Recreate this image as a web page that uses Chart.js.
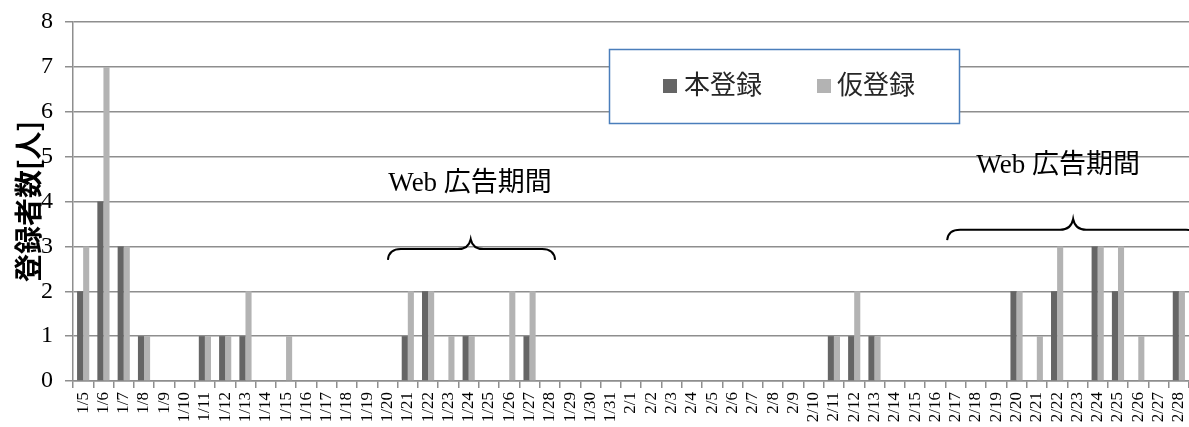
<!DOCTYPE html>
<html>
<head>
<meta charset="utf-8">
<script src="https://cdn.jsdelivr.net/npm/chart.js@4.4.1/dist/chart.umd.min.js"></script>
<style>
  html, body { margin: 0; padding: 0; background: #ffffff; }
  #wrap { width: 1189px; height: 427px; }
</style>
</head>
<body>
<div id="wrap"><canvas id="c" width="1189" height="427"></canvas></div>
<script>
// Daily registrations, 1/5 - 2/28
const dates = [
  '1/5','1/6','1/7','1/8','1/9','1/10','1/11','1/12','1/13','1/14','1/15','1/16','1/17','1/18',
  '1/19','1/20','1/21','1/22','1/23','1/24','1/25','1/26','1/27','1/28','1/29','1/30','1/31',
  '2/1','2/2','2/3','2/4','2/5','2/6','2/7','2/8','2/9','2/10','2/11','2/12','2/13','2/14',
  '2/15','2/16','2/17','2/18','2/19','2/20','2/21','2/22','2/23','2/24','2/25','2/26','2/27','2/28'
];
// 本登録 (full registrations)
const fullReg = [
  2,4,3,1,0,0,1,1,1,0,0,0,0,0,0,0,1,2,0,1,0,0,1,0,0,0,0,
  0,0,0,0,0,0,0,0,0,0,1,1,1,0,0,0,0,0,0,2,0,2,0,3,2,0,0,2
];
// 仮登録 (provisional registrations)
const tempReg = [
  3,7,3,1,0,0,1,1,2,0,1,0,0,0,0,0,2,2,1,1,0,2,2,0,0,0,0,
  0,0,0,0,0,0,0,0,0,0,1,2,1,0,0,0,0,0,0,2,1,3,0,3,3,1,0,2
];
const seriesNames = ['本登録', '仮登録'];
const yTicks = [0,1,2,3,4,5,6,7,8];
const axisTitle = '登録者数[人]';
const periodLabel = 'Web 広告期間';

const DARK = '#656565';
const LIGHT = '#b3b3b3';
const GRID = '#8e8e8e';

// Ad-period annotations: braces spanning category positions, label above
const periods = [
  { from: 15.02, to: 23.26, peak: 19.1, yEnd: 2.70, yMid: 2.94, yPeak: 3.16, textX: 19.07, textY: 4.39 },
  { from: 42.58, to: 55.0,  peak: 48.79, yEnd: 3.14, yMid: 3.37, yPeak: 3.61, textX: 48.05, textY: 4.79 }
];

const periodPlugin = {
  id: 'periods',
  afterDatasetsDraw(chart) {
    const { ctx } = chart;
    const xs = chart.scales.x, ys = chart.scales.y;
    ctx.save();
    periods.forEach(p => {
      const x0 = xs.getPixelForValue(p.from);
      const x1 = xs.getPixelForValue(p.to);
      const xm = xs.getPixelForValue(p.peak);
      const yE = ys.getPixelForValue(p.yEnd);
      const yM = ys.getPixelForValue(p.yMid);
      const yP = ys.getPixelForValue(p.yPeak);
      const r = 13;
      ctx.beginPath();
      ctx.moveTo(x0, yE);
      ctx.quadraticCurveTo(x0 + 1, yM, x0 + r, yM);
      ctx.lineTo(xm - r, yM);
      ctx.quadraticCurveTo(xm - 2, yM, xm, yP);
      ctx.quadraticCurveTo(xm + 2, yM, xm + r, yM);
      ctx.lineTo(x1 - r, yM);
      ctx.quadraticCurveTo(x1 - 1, yM, x1, yE);
      ctx.strokeStyle = '#000000';
      ctx.lineWidth = 2;
      ctx.stroke();

      ctx.fillStyle = '#000000';
      ctx.font = '27px "Liberation Serif", "Noto Sans CJK JP", serif';
      ctx.textAlign = 'center';
      ctx.textBaseline = 'middle';
      ctx.fillText(periodLabel, xs.getPixelForValue(p.textX), ys.getPixelForValue(p.textY));
    });
    ctx.restore();
  }
};

// Boxed legend placed inside the plot
const boxLegendPlugin = {
  id: 'boxLegend',
  afterDatasetsDraw(chart) {
    const { ctx } = chart;
    ctx.save();
    const bx = 609.5, by = 49.5, bw = 350, bh = 74;
    ctx.fillStyle = '#ffffff';
    ctx.fillRect(bx, by, bw, bh);
    ctx.strokeStyle = '#4a7ebb';
    ctx.lineWidth = 1.5;
    ctx.strokeRect(bx, by, bw, bh);
    const items = [
      { sx: 663, tx: 684 },
      { sx: 817, tx: 837 }
    ];
    chart.data.datasets.forEach((ds, i) => {
      const it = items[i];
      ctx.fillStyle = ds.backgroundColor;
      ctx.fillRect(it.sx, 79, 14, 14);
      ctx.fillStyle = '#262626';
      ctx.font = '26px "Noto Sans CJK JP", sans-serif';
      ctx.textAlign = 'left';
      ctx.textBaseline = 'middle';
      ctx.fillText(ds.label, it.tx, 84);
    });
    ctx.restore();
  }
};

new Chart(document.getElementById('c'), {
  type: 'bar',
  data: {
    labels: dates,
    datasets: [
      { label: seriesNames[0], data: fullReg, backgroundColor: DARK, borderWidth: 0 },
      { label: seriesNames[1], data: tempReg, backgroundColor: LIGHT, borderWidth: 0 }
    ]
  },
  options: {
    responsive: false,
    animation: false,
    layout: { padding: { top: 22, right: 0, bottom: 0, left: 0 } },
    datasets: { bar: { categoryPercentage: 0.6, barPercentage: 1.0 } },
    plugins: { legend: { display: false }, tooltip: { enabled: false } },
    scales: {
      x: {
        offset: true,
        grid: { offset: true, drawOnChartArea: false, tickLength: 7, color: GRID, lineWidth: 1.5 },
        border: { display: true, color: GRID, width: 1.5 },
        ticks: {
          autoSkip: false, maxRotation: 90, minRotation: 90, padding: 4,
          color: '#000000',
          font: { family: '"Liberation Serif", serif', size: 17 }
        },
        afterFit(scale) {
          scale.height = 46;
          scale.paddingLeft = 0;
          scale.paddingRight = 0;
        }
      },
      y: {
        min: 0, max: 8,
        afterBuildTicks(scale) { scale.ticks = yTicks.map(v => ({ value: v })); },
        grid: { color: GRID, lineWidth: 1.5, tickLength: 8 },
        border: { display: true, color: GRID, width: 1.5 },
        ticks: {
          padding: 12, color: '#000000',
          font: { family: '"Liberation Serif", serif', size: 24 }
        },
        title: {
          display: true, text: axisTitle, color: '#000000',
          padding: { top: 12, bottom: 0 },
          font: { family: '"Noto Sans CJK JP", sans-serif', size: 28, weight: 'bold' }
        },
        afterFit(scale) {
          scale.width = 73;
          scale.paddingTop = 0;
          scale.paddingBottom = 0;
        }
      }
    }
  },
  plugins: [periodPlugin, boxLegendPlugin]
});
</script>
</body>
</html>
